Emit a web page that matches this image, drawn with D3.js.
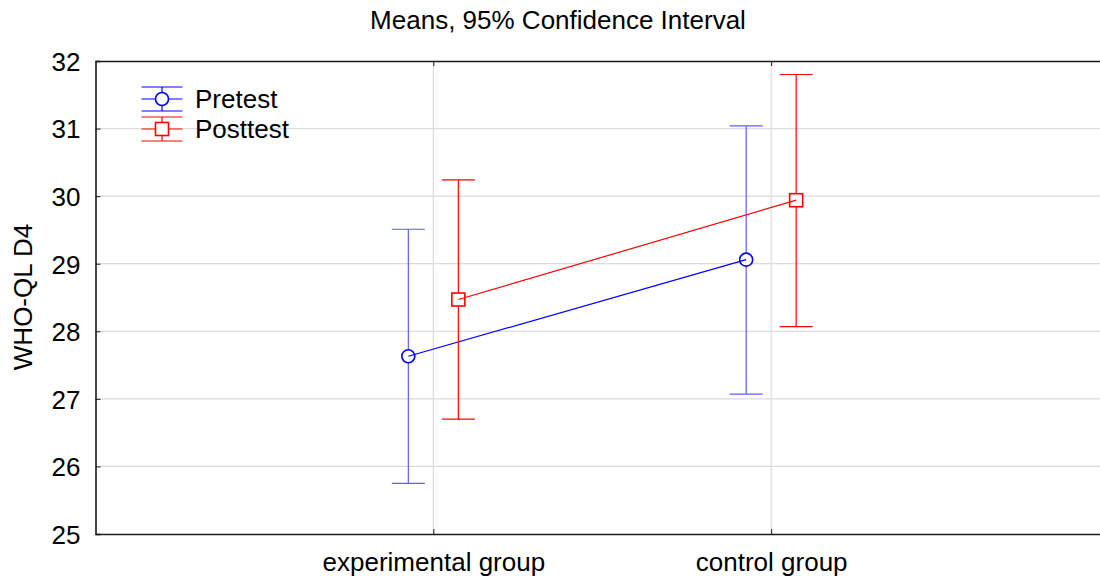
<!DOCTYPE html>
<html>
<head>
<meta charset="utf-8">
<script src="https://cdn.jsdelivr.net/npm/d3@7"></script>
<style>
  body { margin: 0; background: #fff; }
  text { font-family: "Liberation Sans", Arial, sans-serif; fill: #000; }
</style>
</head>
<body>
<svg id="chart" width="1100" height="580"></svg>
<script>
// data
const groups = ['experimental group', 'control group'];
const seriesNames = ['Pretest', 'Posttest'];
const seriesColors = ['#0000ff', '#ff0000'];
const whiskerColors = ['#5c5cff', '#ff0000'];
const pretestMean = [27.63, 29.06];
const pretestLow = [25.75, 27.07];
const pretestHigh = [29.51, 31.04];
const posttestMean = [28.47, 29.94];
const posttestLow = [26.70, 28.07];
const posttestHigh = [30.24, 31.80];
const yTicks = [25, 26, 27, 28, 29, 30, 31, 32];

const series = [
    { name: seriesNames[0], mean: pretestMean, low: pretestLow, high: pretestHigh, shape: 'circle', offset: -25 },
    { name: seriesNames[1], mean: posttestMean, low: posttestLow, high: posttestHigh, shape: 'square', offset: 25 }
];

const margin = { left: 95.5, top: 61, bottom: 534 };
const fontSize = '26px';
const svg = d3.select('#chart');

const x = d3.scalePoint()
    .domain(groups)
    .range([margin.left, 1109])
    .padding(1);

const y = d3.scaleLinear()
    .domain([25, 32])
    .range([margin.bottom, margin.top]);

// grid
svg.append('g')
    .selectAll('line')
    .data(yTicks.slice(1, -1))
    .join('line')
    .attr('x1', margin.left).attr('x2', 1100)
    .attr('y1', d => y(d)).attr('y2', d => y(d))
    .style('stroke', '#dcdcdc').style('stroke-width', 1.2);

svg.append('g')
    .selectAll('line')
    .data(groups)
    .join('line')
    .attr('x1', d => x(d)).attr('x2', d => x(d))
    .attr('y1', margin.top).attr('y2', margin.bottom)
    .style('stroke', '#dcdcdc').style('stroke-width', 1.2);

// axes
svg.append('g')
    .attr('transform', `translate(${margin.left},0)`)
    .call(d3.axisLeft(y).tickValues(yTicks).tickSize(-5).tickPadding(15).tickFormat(d3.format('d')))
    .call(g => g.select('.domain').style('stroke', '#1a1a1a').style('stroke-width', 1.6))
    .call(g => g.selectAll('.tick line').style('stroke', '#1a1a1a'))
    .call(g => g.selectAll('.tick text').style('font-size', fontSize).style('font-family', '"Liberation Sans", Arial, sans-serif').attr('dy', '0.36em'));

svg.append('g')
    .attr('transform', `translate(0,${margin.bottom})`)
    .call(d3.axisBottom(x).tickSize(-5).tickPadding(19).tickSizeOuter(0))
    .call(g => g.select('.domain').style('stroke', '#1a1a1a').style('stroke-width', 1.6))
    .call(g => g.selectAll('.tick line').style('stroke', '#1a1a1a'))
    .call(g => g.selectAll('.tick text').style('font-size', fontSize).style('font-family', '"Liberation Sans", Arial, sans-serif'));

svg.append('g')
    .attr('transform', `translate(0,${margin.top})`)
    .call(d3.axisTop(x).tickSize(-5).tickFormat('').tickSizeOuter(0))
    .call(g => g.select('.domain').style('stroke', '#1a1a1a').style('stroke-width', 1.6))
    .call(g => g.selectAll('.tick line').style('stroke', '#1a1a1a'));

// series
const cap = 16.5;
series.forEach((s, i) => {
    const g = svg.append('g');
    const px = j => x(groups[j]) + s.offset;
    const idx = d3.range(groups.length);

    g.selectAll('.whisker')
        .data(idx)
        .join('line')
        .attr('x1', px).attr('x2', px)
        .attr('y1', j => y(s.low[j])).attr('y2', j => y(s.high[j]))
        .style('stroke', whiskerColors[i]).style('stroke-width', 1.2);

    ['low', 'high'].forEach(k => {
        g.selectAll('.cap-' + k)
            .data(idx)
            .join('line')
            .attr('x1', j => px(j) - cap).attr('x2', j => px(j) + cap)
            .attr('y1', j => y(s[k][j])).attr('y2', j => y(s[k][j]))
            .style('stroke', whiskerColors[i]).style('stroke-width', 1.2);
    });

    if (s.shape === 'circle') {
        g.selectAll('.marker')
            .data(idx)
            .join('circle')
            .attr('cx', px).attr('cy', j => y(s.mean[j]))
            .attr('r', 6.5)
            .style('fill', '#fff').style('stroke', seriesColors[i]).style('stroke-width', 1.6);
    } else {
        g.selectAll('.marker')
            .data(idx)
            .join('rect')
            .attr('x', j => px(j) - 6.5).attr('y', j => y(s.mean[j]) - 6.5)
            .attr('width', 13).attr('height', 13)
            .style('fill', '#fff').style('stroke', seriesColors[i]).style('stroke-width', 1.6);
    }

    const line = d3.line()
        .x((d, j) => px(j))
        .y(d => y(d));

    g.append('path')
        .datum(s.mean)
        .attr('d', line)
        .style('fill', 'none')
        .style('stroke', seriesColors[i])
        .style('stroke-width', 1.2);
});

// legend
const legend = svg.append('g');
series.forEach((s, i) => {
    const ly = 99 + i * 30;
    const lg = legend.append('g').attr('transform', `translate(162,${ly})`);
    [-12, 0, 12].forEach(dy => {
        lg.append('line')
            .attr('x1', -20.5).attr('x2', 20.5)
            .attr('y1', dy).attr('y2', dy)
            .style('stroke', seriesColors[i]).style('stroke-width', 1.2);
    });
    lg.append('line')
        .attr('x1', 0).attr('x2', 0).attr('y1', -12).attr('y2', 12)
        .style('stroke', seriesColors[i]).style('stroke-width', 1.2);
    if (s.shape === 'circle') {
        lg.append('circle').attr('r', 6.5)
            .style('fill', '#fff').style('stroke', seriesColors[i]).style('stroke-width', 1.6);
    } else {
        lg.append('rect').attr('x', -6.5).attr('y', -6.5).attr('width', 13).attr('height', 13)
            .style('fill', '#fff').style('stroke', seriesColors[i]).style('stroke-width', 1.6);
    }
    lg.append('text')
        .attr('x', 33).attr('y', 0).attr('dy', '0.36em')
        .style('font-size', fontSize)
        .text(s.name);
});

// titles
svg.append('text')
    .attr('x', 558).attr('y', 29)
    .attr('text-anchor', 'middle')
    .style('font-size', fontSize)
    .text('Means, 95% Confidence Interval');

svg.append('text')
    .attr('transform', 'translate(32,297) rotate(-90)')
    .attr('text-anchor', 'middle')
    .style('font-size', fontSize)
    .text('WHO-QL D4');
</script>
</body>
</html>
